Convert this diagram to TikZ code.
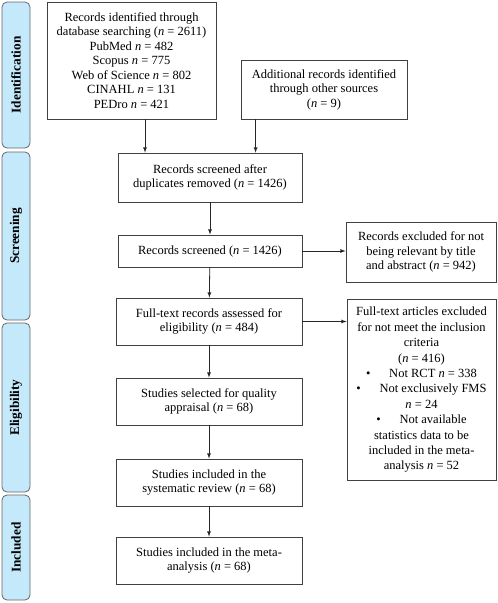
\documentclass[tikz,border=0pt]{standalone}
\usepackage{fontspec}
\setmainfont{Liberation Serif}
\definecolor{sidebl}{HTML}{C3E9FA}
\newcommand{\nn}{\textit{n}}

\begin{document}
\begin{tikzpicture}[x=1pt, y=-1pt,
    box/.style={draw=black!75, line width=0.8pt, align=center, inner sep=2pt,
        font=\fontsize{12.5}{14.5}\selectfont},
    side/.style={draw=black!60, fill=sidebl, rounded corners=5pt, line width=0.8pt,
        rotate=90, minimum height=28pt, inner sep=0pt,
        font=\fontsize{13.3}{15}\selectfont\bfseries},
    arr/.style={-latex, line width=0.8pt, draw=black!85}]
    \useasboundingbox (0,0) rectangle (498,603);
    % phases
    \node[side, minimum width=146pt] (ident) at (16,75) {Identification};
    \node[side, minimum width=168pt] (screen) at (16,236) {Screening};
    \node[side, minimum width=169pt] (elig) at (16,407.5) {Eligibility};
    \node[side, minimum width=105pt] (incl) at (16,547.5) {Included};
    % boxes
    \node[box, minimum width=169pt, minimum height=117pt] (rec) at (131.5,60.5)
        {Records identified through\\ database searching (\nn{} = 2611)\\
         PubMed \nn{} = 482\\ Scopus \nn{} = 775\\ Web of Science \nn{} = 802\\
         CINAHL \nn{} = 131\\ PEDro \nn{} = 421};
    \node[box, minimum width=166pt, minimum height=59pt] (add) at (324,89.5)
        {Additional records identified\\ through other sources\\ (\nn{} = 9)};
    \node[box, minimum width=184pt, minimum height=49pt] (dup) at (210,177.5)
        {Records screened after\\ duplicates removed (\nn{} = 1426)};
    \node[box, minimum width=184pt, minimum height=32pt] (scr) at (210,251)
        {Records screened (\nn{} = 1426)};
    \node[box, minimum width=150pt, minimum height=60pt] (exca) at (421,252)
        {Records excluded for not\\ being relevant by title\\ and abstract (\nn{} = 942)};
    \node[box, minimum width=186pt, minimum height=47pt] (full) at (209,321.5)
        {Full-text records assessed for\\ eligibility (\nn{} = 484)};
    \node[box, minimum width=149pt, minimum height=181pt,
        font=\fontsize{12.5}{15.4}\selectfont] (excb) at (421.5,390)
        {Full-text articles excluded\\ for not meet the inclusion\\ criteria\\ (\nn{} = 416)\\
         \textbullet\hspace{1.5em}Not RCT \nn{} = 338\\
         \textbullet\hspace{1.5em}Not exclusively FMS\\ \nn{} = 24\\
         \textbullet\hspace{1.5em}Not available\\ statistics data to be\\
         included in the meta-\\ analysis \nn{} = 52};
    \node[box, minimum width=186pt, minimum height=47pt] (sel) at (209,401.5)
        {Studies selected for quality\\ appraisal (\nn{} = 68)};
    \node[box, minimum width=186pt, minimum height=47pt] (sys) at (209,482.5)
        {Studies included in the\\ systematic review (\nn{} = 68)};
    \node[box, minimum width=186pt, minimum height=47pt] (meta) at (209,560.5)
        {Studies included in the meta-\\ analysis (\nn{} = 68)};
    % arrows
    \draw[arr] ([xshift=13.5pt]rec.south) -- ([xshift=13.5pt]rec.south |- dup.north);
    \draw[arr] ([xshift=15pt]add.south west) -- ([xshift=15pt]add.south west |- dup.north);
    \draw[arr] (dup) -- (scr);
    \draw[arr] (scr) -- (full);
    \draw[arr] (full) -- (sel);
    \draw[arr] (sel) -- (sys);
    \draw[arr] (sys) -- (meta);
    \draw[arr] (scr.east) -- (scr.east -| exca.west);
    \draw[arr] (full.east) -- (full.east -| excb.west);
\end{tikzpicture}
\end{document}
